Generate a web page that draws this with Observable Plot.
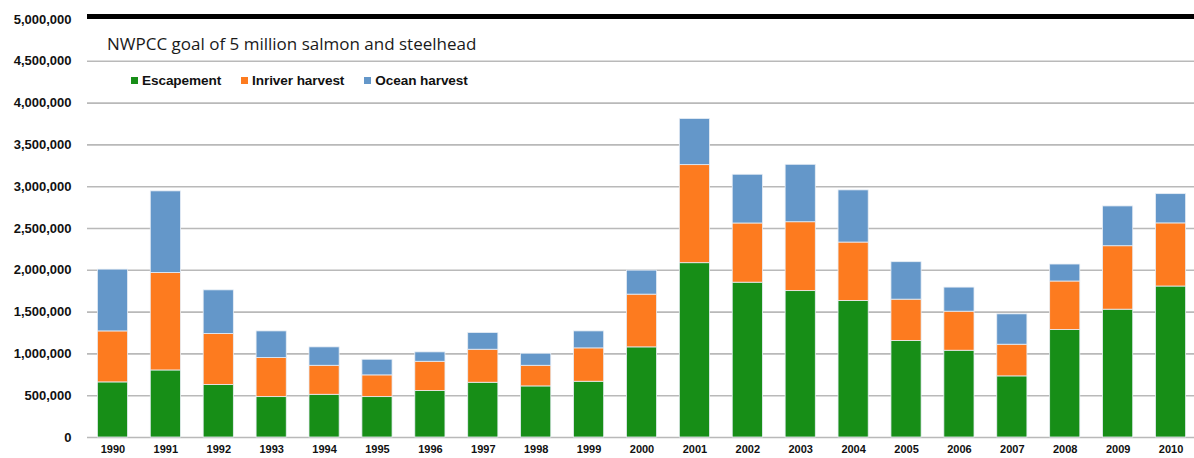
<!DOCTYPE html>
<html><head><meta charset="utf-8">
<script src="https://cdn.jsdelivr.net/npm/d3@7"></script>
<script src="https://cdn.jsdelivr.net/npm/@observablehq/plot@0.6"></script>
<style>
body{margin:0;background:#fff;}
#wrap{position:relative;width:1194px;height:458px;}
#title{position:absolute;left:107px;top:32px;font:17px "Open Sans",sans-serif;color:#1a1a1a;white-space:nowrap;}
#legend{position:absolute;left:131px;top:73px;display:flex;font:bold 13.6px "Liberation Sans",Arial,sans-serif;color:#111;white-space:nowrap;letter-spacing:-0.1px;}
#legend .item{display:flex;align-items:center;margin-right:20px;}
#legend .sw{width:7px;height:7px;margin-right:4px;}
</style></head><body>
<div id="wrap"><div id="chart"></div><div id="title"></div><div id="legend"></div></div>
<script>
const years = ["1990","1991","1992","1993","1994","1995","1996","1997","1998","1999","2000","2001","2002","2003","2004","2005","2006","2007","2008","2009","2010"];
const escapement = [659000,802000,627000,483000,511000,483000,555000,655000,611000,667000,1078000,2085000,1852000,1751000,1633000,1154000,1038000,731000,1285000,1529000,1806000];
const inriverHarvest = [610000,1166000,611000,467000,347000,260000,351000,395000,247000,399000,631000,1173000,708000,824000,699000,495000,467000,379000,581000,759000,755000];
const oceanHarvest = [739000,976000,522000,319000,220000,187000,112000,200000,144000,203000,287000,552000,583000,687000,624000,448000,288000,363000,203000,476000,350000];
const seriesNames = ["Escapement","Inriver harvest","Ocean harvest"];
const seriesColors = ["#178e17","#fd7b1f","#6497c9"];
const yTicks = [0,500000,1000000,1500000,2000000,2500000,3000000,3500000,4000000,4500000,5000000];
const goalValue = 5000000;
const titleText = "NWPCC goal of 5 million salmon and steelhead";

const seriesValues = [escapement, inriverHarvest, oceanHarvest];
const data = [];
years.forEach((yr, i) => {
  seriesNames.forEach((s, j) => data.push({year: yr, series: s, value: seriesValues[j][i]}));
});

const chart = Plot.plot({
  width: 1194,
  height: 458,
  marginLeft: 87,
  marginRight: 0,
  marginTop: 19,
  marginBottom: 21,
  style: {fontFamily: "'Liberation Sans', Arial, sans-serif", background: "#fff"},
  x: {domain: years, range: [86, 1197], paddingInner: 0.43, paddingOuter: 0.215, round: false},
  y: {domain: [0, 5000000]},
  color: {domain: seriesNames, range: seriesColors},
  marks: [
    Plot.gridY(yTicks.filter(t => t < goalValue), {stroke: "#b9b9b9", strokeOpacity: 1, strokeWidth: 1.6}),
    Plot.barY(data, {x: "year", y: "value", fill: "series", stroke: "#e8eef5", strokeWidth: 0.8, inset: 0}),
    Plot.ruleY([goalValue], {stroke: "#000", strokeWidth: 5, dy: -3}),
    Plot.axisY({ticks: yTicks, tickSize: 0, tickPadding: 16, tickFormat: d3.format(","), fontSize: 13, fontWeight: "bold", fill: "#111", label: null}),
    Plot.axisX({tickSize: 0, tickPadding: 8, fontSize: 11, fontWeight: "bold", fill: "#111", label: null})
  ]
});
document.getElementById("chart").appendChild(chart);
document.getElementById("title").textContent = titleText;
const lg = document.getElementById("legend");
seriesNames.forEach((s, i) => {
  const it = document.createElement("div"); it.className = "item";
  const sw = document.createElement("div"); sw.className = "sw"; sw.style.background = seriesColors[i];
  const tx = document.createElement("span"); tx.textContent = s;
  it.appendChild(sw); it.appendChild(tx); lg.appendChild(it);
});
</script>
</body></html>
